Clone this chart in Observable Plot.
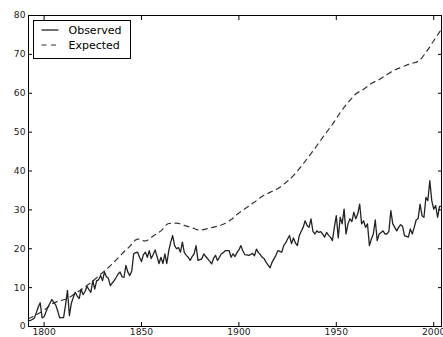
<!DOCTYPE html>
<html>
<head>
<meta charset="utf-8">
<script src="https://cdn.jsdelivr.net/npm/d3@7"></script>
<script src="https://cdn.jsdelivr.net/npm/@observablehq/plot@0.6"></script>
<style>
  html, body { margin: 0; padding: 0; background: #fff; }
  #chart svg { display: block; }
</style>
</head>
<body>
<div id="chart"></div>
<script>
// Annual observed series, one value per year starting at firstYear
const firstYear = 1792;
const observed = [
  1.5, 1.6, 1.8, 2.2, 3.5, 5.0, 6.1, 2.2, 2.5, 3.8,          // 1792-1801
  5.0, 6.0, 6.9, 6.2, 5.5, 4.0, 2.2, 2.3, 2.3, 5.5,          // 1802-1811
  9.3, 2.8, 6.0, 7.5, 8.8, 7.8, 7.2, 9.6, 8.2, 9.0,          // 1812-1821
  10.3, 9.5, 8.8, 11.8, 9.6, 11.8, 12.0, 13.1, 11.8, 14.0,   // 1822-1831
  12.8, 12.4, 10.5, 11.2, 11.8, 12.6, 13.5, 14.0, 12.8, 12.6, // 1832-1841
  15.7, 14.0, 13.1, 14.3, 18.7, 19.0, 19.1, 17.8, 16.7, 18.5, // 1842-1851
  19.1, 17.8, 19.5, 17.5, 18.5, 19.7, 18.0, 16.2, 17.8, 16.2, // 1852-1861
  18.7, 16.2, 19.5, 21.7, 23.4, 20.8, 20.0, 20.3, 19.1, 21.7, // 1862-1871
  19.0, 18.3, 17.8, 17.0, 18.0, 18.7, 20.8, 17.0, 17.2, 17.4, // 1872-1881
  18.7, 18.0, 17.4, 16.8, 16.1, 17.5, 18.3, 17.0, 17.8, 18.7, // 1882-1891
  19.0, 19.5, 19.5, 19.5, 17.8, 18.7, 18.0, 19.0, 19.7, 20.8, // 1892-1901
  19.5, 18.5, 18.4, 18.3, 18.5, 18.8, 18.2, 19.9, 19.0, 18.5, // 1902-1911
  17.8, 17.4, 16.5, 15.8, 15.1, 16.5, 17.4, 18.3, 19.5, 19.3, // 1912-1921
  19.1, 20.8, 21.5, 22.5, 23.4, 21.3, 22.8, 21.5, 20.8, 23.4, // 1922-1931
  24.5, 25.5, 27.2, 26.0, 25.5, 27.7, 24.5, 23.8, 24.6, 24.2, // 1932-1941
  24.4, 23.8, 23.0, 24.2, 23.5, 23.0, 22.1, 25.5, 28.5, 22.8, // 1942-1951
  28.1, 26.4, 30.2, 23.8, 26.4, 27.7, 27.0, 29.4, 27.7, 29.0, // 1952-1961
  31.5, 26.4, 27.2, 25.5, 26.4, 20.8, 22.5, 23.8, 27.4, 22.1, // 1962-1971
  23.8, 24.2, 24.6, 23.8, 23.8, 24.5, 29.8, 26.4, 25.5, 24.6, // 1972-1981
  25.5, 26.2, 25.8, 23.4, 23.2, 23.0, 25.1, 23.8, 25.5, 27.4, // 1982-1991
  27.8, 31.5, 28.5, 28.1, 33.2, 32.4, 37.5, 32.4, 30.2, 31.1, // 1992-2001
  28.1, 30.9, 30.9                                            // 2002-2004
];

// Expected (smooth) series
const expectedYears = [
  1792, 1796, 1800, 1804, 1808, 1812, 1816, 1820, 1824, 1828,
  1832, 1836, 1840, 1844, 1848, 1852, 1856, 1860, 1864, 1868,
  1872, 1876, 1880, 1884, 1888, 1892, 1896, 1900, 1904, 1908,
  1912, 1916, 1920, 1924, 1928, 1932, 1936, 1940, 1944, 1948,
  1952, 1956, 1960, 1964, 1968, 1972, 1976, 1980, 1984, 1988,
  1992, 1996, 2000, 2004
];
const expected = [
  2.0, 3.0, 4.2, 5.8, 6.6, 7.2, 8.5, 9.8, 11.3, 13.0,
  14.7, 16.6, 18.7, 20.6, 22.5, 22.0, 23.3, 24.6, 26.5, 26.6,
  26.0, 25.4, 24.8, 25.2, 25.7, 26.3, 27.5, 29.2, 30.6, 32.0,
  33.5, 34.5, 35.5, 37.0, 38.8, 41.2, 43.8, 46.5, 49.3, 52.0,
  55.0, 57.6, 59.8, 61.0, 62.5, 63.5, 64.8, 66.0, 66.8, 67.6,
  68.2, 70.5, 73.5, 76.5
];

const xTicks = [1800, 1850, 1900, 1950, 2000];
const yTicks = [0, 10, 20, 30, 40, 50, 60, 70, 80];
const seriesNames = ["Observed", "Expected"];

const obsData = observed.map((v, i) => ({year: firstYear + i, value: v}));
const expData = expectedYears.map((yr, i) => ({year: yr, value: expected[i]}));

const ink = "#222";
const dash = "5,4.5";

const chart = Plot.plot({
  width: 443,
  height: 337,
  marginLeft: 28,
  marginRight: 2,
  marginTop: 15,
  marginBottom: 11,
  style: {fontFamily: "DejaVu Sans, sans-serif", fontSize: "9.2px", color: ink, background: "#fff"},
  x: {domain: [firstYear, firstYear + observed.length - 1]},
  y: {domain: [0, 80]},
  marks: [
    Plot.line(expData, {x: "year", y: "value", stroke: "#333", strokeWidth: 1.2, strokeDasharray: dash, curve: "monotone-x"}),
    Plot.line(obsData, {x: "year", y: "value", stroke: ink, strokeWidth: 1.3}),
    Plot.frame({stroke: "#000", strokeWidth: 1}),
    // inward ticks on all four sides, labels on bottom and left
    Plot.axisX({anchor: "bottom", ticks: xTicks, tickFormat: "d", tickSize: -4, tickPadding: 6, label: null, stroke: "#000"}),
    Plot.axisX({anchor: "top", ticks: xTicks, tickFormat: () => "", tickSize: -4, label: null, stroke: "#000"}),
    Plot.axisY({anchor: "left", ticks: yTicks, tickSize: -4, tickPadding: 7, label: null, stroke: "#000"}),
    Plot.axisY({anchor: "right", ticks: yTicks, tickFormat: () => "", tickSize: -4, label: null, stroke: "#000"})
  ]
});

document.getElementById("chart").appendChild(chart);

// Legend box in the upper-left corner of the frame
const svg = d3.select(chart);
const legend = svg.append("g").attr("transform", "translate(33.5,20.5)");
legend.append("rect")
  .attr("width", 97).attr("height", 38)
  .attr("fill", "#fff").attr("stroke", "#000").attr("stroke-width", 1);
seriesNames.forEach((name, i) => {
  const cy = 9.5 + i * 15;
  legend.append("line")
    .attr("x1", 8).attr("x2", 25).attr("y1", cy).attr("y2", cy)
    .attr("stroke", i === 0 ? ink : "#333").attr("stroke-width", i === 0 ? 1.3 : 1.2)
    .attr("stroke-dasharray", i === 0 ? null : dash);
  legend.append("text")
    .attr("x", 35).attr("y", cy).attr("dy", "0.35em")
    .attr("text-anchor", "start")
    .attr("font-family", "DejaVu Sans, sans-serif").attr("font-size", 11)
    .attr("fill", "#000")
    .text(name);
});
</script>
</body>
</html>
